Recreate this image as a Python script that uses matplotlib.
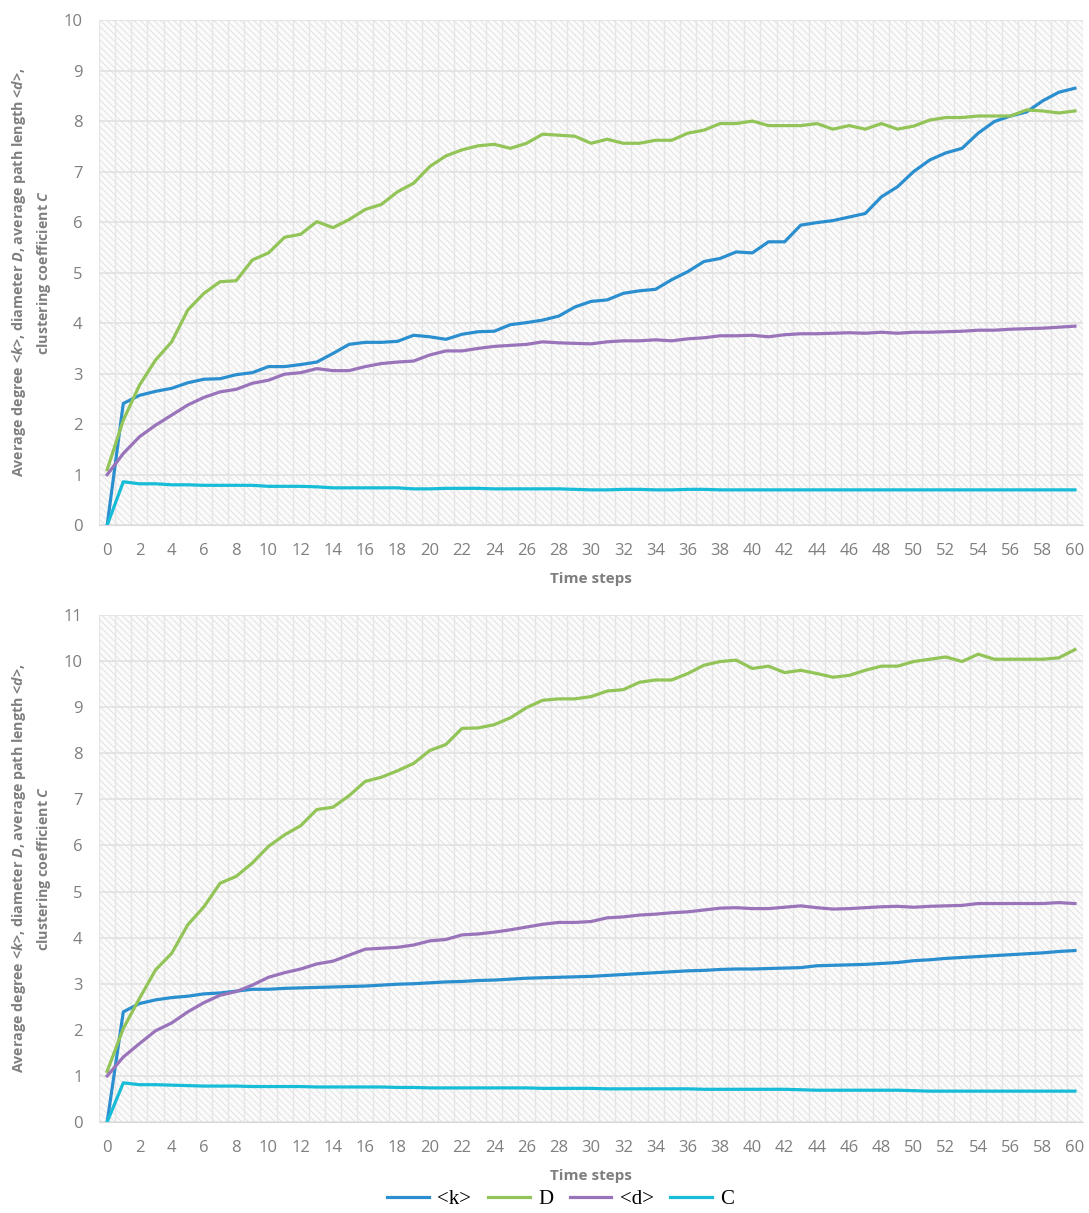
import matplotlib
matplotlib.use("Agg")
import matplotlib.pyplot as plt
from matplotlib.lines import Line2D

# -----------------------------------------------------------------------------
# Network metrics per time step (two simulation runs)
# -----------------------------------------------------------------------------
steps = list(range(61))

k_run1 = [0, 2.41, 2.57, 2.65, 2.71, 2.82, 2.89, 2.90, 2.98, 3.02,
          3.14, 3.14, 3.18, 3.23, 3.40, 3.58, 3.62, 3.62, 3.64, 3.76,
          3.73, 3.68, 3.78, 3.83, 3.84, 3.97, 4.01, 4.06, 4.14, 4.32,
          4.43, 4.46, 4.59, 4.64, 4.67, 4.86, 5.02, 5.22, 5.28, 5.41,
          5.39, 5.61, 5.61, 5.94, 5.99, 6.03, 6.10, 6.17, 6.50, 6.70,
          7.00, 7.23, 7.37, 7.46, 7.76, 7.99, 8.10, 8.18, 8.40, 8.57, 8.65]
D_run1 = [1.1, 2.08, 2.77, 3.27, 3.63, 4.26, 4.59, 4.82, 4.84, 5.25,
          5.39, 5.70, 5.76, 6.01, 5.89, 6.05, 6.25, 6.35, 6.60, 6.77,
          7.10, 7.31, 7.43, 7.51, 7.54, 7.46, 7.56, 7.74, 7.72, 7.70,
          7.56, 7.64, 7.56, 7.56, 7.62, 7.62, 7.76, 7.82, 7.95, 7.95,
          8.00, 7.91, 7.91, 7.91, 7.95, 7.84, 7.91, 7.84, 7.95, 7.84,
          7.90, 8.02, 8.07, 8.07, 8.10, 8.10, 8.10, 8.22, 8.20, 8.16, 8.20]
d_run1 = [1.0, 1.42, 1.75, 1.98, 2.18, 2.38, 2.53, 2.64, 2.69, 2.81,
          2.87, 2.99, 3.02, 3.10, 3.06, 3.06, 3.14, 3.20, 3.23, 3.25,
          3.37, 3.45, 3.45, 3.50, 3.54, 3.56, 3.58, 3.63, 3.61, 3.60,
          3.59, 3.63, 3.65, 3.65, 3.67, 3.65, 3.69, 3.71, 3.75, 3.75,
          3.76, 3.73, 3.77, 3.79, 3.79, 3.80, 3.81, 3.80, 3.82, 3.80,
          3.82, 3.82, 3.83, 3.84, 3.86, 3.86, 3.88, 3.89, 3.90, 3.92, 3.94]
C_run1 = [0, 0.86, 0.82, 0.82, 0.80, 0.80, 0.79, 0.79, 0.79, 0.79,
          0.77, 0.77, 0.77, 0.76, 0.74, 0.74, 0.74, 0.74, 0.74, 0.72,
          0.72, 0.73, 0.73, 0.73, 0.72, 0.72, 0.72, 0.72, 0.72, 0.71,
          0.70, 0.70, 0.71, 0.71, 0.70, 0.70, 0.71, 0.71, 0.70, 0.70,
          0.70, 0.70, 0.70, 0.70, 0.70, 0.70, 0.70, 0.70, 0.70, 0.70,
          0.70, 0.70, 0.70, 0.70, 0.70, 0.70, 0.70, 0.70, 0.70, 0.70, 0.70]

k_run2 = [0, 2.39, 2.57, 2.65, 2.70, 2.73, 2.78, 2.80, 2.84, 2.88,
          2.88, 2.90, 2.91, 2.92, 2.93, 2.94, 2.95, 2.97, 2.99, 3.00,
          3.02, 3.04, 3.05, 3.07, 3.08, 3.10, 3.12, 3.13, 3.14, 3.15,
          3.16, 3.18, 3.20, 3.22, 3.24, 3.26, 3.28, 3.29, 3.31, 3.32,
          3.32, 3.33, 3.34, 3.35, 3.39, 3.40, 3.41, 3.42, 3.44, 3.46,
          3.50, 3.52, 3.55, 3.57, 3.59, 3.61, 3.63, 3.65, 3.67, 3.70, 3.72]
D_run2 = [1.1, 2.03, 2.68, 3.30, 3.66, 4.28, 4.67, 5.18, 5.33, 5.62,
          5.98, 6.23, 6.43, 6.78, 6.83, 7.08, 7.39, 7.48, 7.62, 7.78,
          8.06, 8.19, 8.54, 8.55, 8.62, 8.77, 8.99, 9.15, 9.18, 9.18,
          9.23, 9.35, 9.38, 9.54, 9.59, 9.59, 9.73, 9.91, 9.99, 10.02,
          9.84, 9.89, 9.75, 9.80, 9.73, 9.65, 9.69, 9.80, 9.89, 9.89,
          9.99, 10.04, 10.09, 9.99, 10.15, 10.04, 10.04, 10.04, 10.04, 10.07, 10.25]
d_run2 = [1.0, 1.41, 1.70, 1.98, 2.15, 2.39, 2.59, 2.75, 2.83, 2.97,
          3.14, 3.24, 3.32, 3.43, 3.49, 3.62, 3.75, 3.77, 3.79, 3.84,
          3.93, 3.96, 4.06, 4.08, 4.12, 4.17, 4.23, 4.29, 4.33, 4.33,
          4.35, 4.43, 4.45, 4.49, 4.51, 4.54, 4.56, 4.60, 4.64, 4.65,
          4.63, 4.63, 4.66, 4.69, 4.65, 4.62, 4.63, 4.65, 4.67, 4.68,
          4.66, 4.68, 4.69, 4.70, 4.74, 4.74, 4.74, 4.74, 4.74, 4.76, 4.74]
C_run2 = [0, 0.85, 0.81, 0.81, 0.80, 0.79, 0.78, 0.78, 0.78, 0.77,
          0.77, 0.77, 0.77, 0.76, 0.76, 0.76, 0.76, 0.76, 0.75, 0.75,
          0.74, 0.74, 0.74, 0.74, 0.74, 0.74, 0.74, 0.73, 0.73, 0.73,
          0.73, 0.72, 0.72, 0.72, 0.72, 0.72, 0.72, 0.71, 0.71, 0.71,
          0.71, 0.71, 0.71, 0.70, 0.69, 0.69, 0.69, 0.69, 0.69, 0.69,
          0.68, 0.67, 0.67, 0.67, 0.67, 0.67, 0.67, 0.67, 0.67, 0.67, 0.67]

series_names = ["<k>", "D", "<d>", "C"]
series_colors = ["#2B8FCF", "#93C458", "#9A74BA", "#17BCD7"]

# -----------------------------------------------------------------------------
# Figure setup
# -----------------------------------------------------------------------------
plt.rcParams["font.family"] = ["Open Sans", "DejaVu Sans"]
plt.rcParams["mathtext.fontset"] = "custom"
plt.rcParams["mathtext.it"] = "Open Sans:italic:bold"
plt.rcParams["mathtext.rm"] = "Open Sans:bold"
plt.rcParams["hatch.linewidth"] = 0.6

fig = plt.figure(figsize=(10.89, 12.13), dpi=100)
ax_top = fig.add_axes([0.091, 0.567, 0.9035, 0.4165])
ax_bot = fig.add_axes([0.091, 0.075, 0.9035, 0.418])

grey_text = "#7F7F7F"
ylabel_text = ("Average degree <$\\mathit{k}$>, diameter $\\mathit{D}$, "
               "average path length <$\\mathit{d}$>,\nclustering coefficient $\\mathit{C}$")


def draw_panel(ax, runs, ymax):
    # hatched plot area with light grid
    ax.patch.set_facecolor("#FBFBFB")
    ax.patch.set_edgecolor("#DEDEDE")
    ax.patch.set_hatch("\\\\\\\\\\")
    ax.patch.set_linewidth(0)

    for vals, color in zip(runs, series_colors):
        ax.plot(steps, vals, color=color, linewidth=2.3, zorder=3,
                solid_joinstyle="round")

    ax.set_xlim(-0.5, 60.5)
    ax.set_ylim(0, ymax)
    ax.set_xticks(range(0, 61, 2))
    ax.set_yticks(range(0, ymax + 1))
    ax.set_xticks([i + 0.5 for i in range(-1, 61)], minor=True)
    ax.grid(axis="y", which="major", color="#E0E0E0", linewidth=1.1, zorder=1)
    ax.grid(axis="x", which="minor", color="#E6E6E6", linewidth=1.0, zorder=1)
    ax.tick_params(which="both", length=0)
    ax.tick_params(axis="x", pad=13, labelsize=12, labelcolor=grey_text)
    ax.tick_params(axis="y", pad=12, labelsize=12, labelcolor=grey_text)
    for side in ["top", "right", "left"]:
        ax.spines[side].set_visible(False)
    ax.spines["bottom"].set_color("#D9D9D9")
    ax.set_axisbelow(True)

    ax.set_xlabel("Time steps", fontsize=11, fontweight="bold",
                  color=grey_text, labelpad=9)


draw_panel(ax_top, [k_run1, D_run1, d_run1, C_run1], 10)
draw_panel(ax_bot, [k_run2, D_run2, d_run2, C_run2], 11)

# two-line y label next to each panel
for ax in [ax_top, ax_bot]:
    pos = ax.get_position()
    fig.text(0.029, pos.y0 + pos.height / 2, ylabel_text, rotation=90,
             ha="center", va="center", multialignment="center",
             fontsize=10.3, fontweight="bold", color=grey_text, linespacing=1.5)

# -----------------------------------------------------------------------------
# Shared legend
# -----------------------------------------------------------------------------
handles = [Line2D([], [], color=c, linewidth=2.3) for c in series_colors]
fig.legend(handles, series_names, loc="center", bbox_to_anchor=(0.515, 0.011),
           ncol=4, frameon=False, handlelength=2.0, handletextpad=0.4,
           columnspacing=0.8, prop={"family": "Liberation Serif", "size": 15})

plt.savefig("out.png", dpi=100)
